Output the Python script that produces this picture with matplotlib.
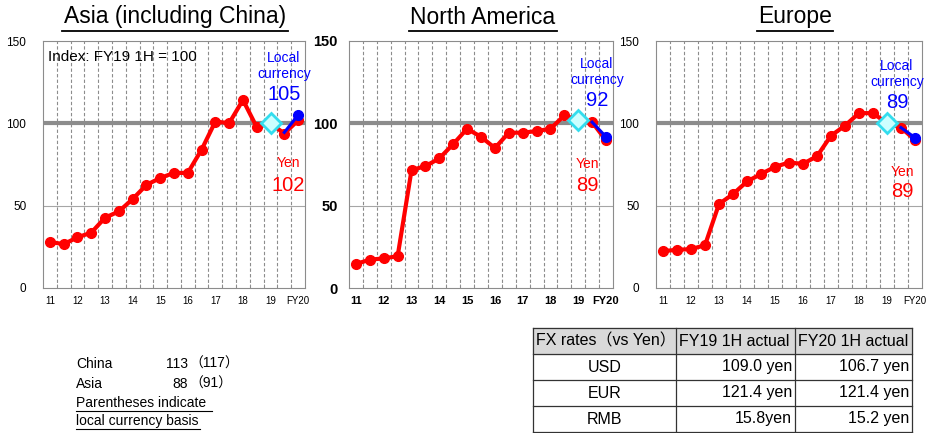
import matplotlib
matplotlib.use("Agg")
import matplotlib.pyplot as plt

plt.rcParams['font.family'] = ['Liberation Sans', 'Noto Sans CJK JP', 'DejaVu Sans']

# half-year points FY11 1H .. FY20 1H
x_labels = ['11', '12', '13', '14', '15', '16', '17', '18', '19', 'FY20']

asia_yen = [28, 26.6, 30.8, 33.6, 42.7, 46.5, 54, 62.6, 66.8, 69.9, 69.9, 84, 101.1, 100.1, 114.2, 97.7, 100, 93.8, 101.8]
asia_local = [94.5, 105]
na_yen = [14.6, 17.2, 18, 19.3, 71.6, 74, 78.7, 87.4, 96.7, 91.8, 85, 94.3, 94.3, 95.3, 96.7, 104.8, 102, 100.7, 89.6]
na_local = [100.7, 91.8]
eu_yen = [22.4, 23.2, 23.6, 26, 51, 57, 64.7, 69.2, 73.6, 76.2, 75.4, 80, 92.5, 98.6, 106.2, 106.2, 100, 97.4, 89.9]
eu_local = [97.4, 91.3]

titles = ['Asia (including China)', 'North America', 'Europe']
local_labels = ['105', '92', '89']
yen_labels = ['102', '89', '89']

china_row = ['China', '113', '（117）']
asia_row = ['Asia', '88', '（91）']

fx_header = ['FX rates（vs Yen）', 'FY19 1H actual', 'FY20 1H actual']
fx_rows = [['USD', '109.0 yen', '106.7 yen'],
           ['EUR', '121.4 yen', '121.4 yen'],
           ['RMB', '15.8yen', '15.2 yen']]

fig = plt.figure(figsize=(9.26, 4.33), dpi=100)
W, H = 926, 433

def fx(px):
    return px / W

def fy(py):
    return 1 - py / H

boxes = [(43, 305), (349, 613), (656, 922)]
title_x = [175, 483, 795]
title_w = [226, 148, 76]
bold = [False, True, False]
local_pos = [(284, 66, 95), (597, 72, 101), (897, 74, 102)]
yen_pos = [(288, 163, 185), (587, 164, 186), (902, 172, 192)]

series = [(asia_yen, asia_local), (na_yen, na_local), (eu_yen, eu_local)]

for i, (yen, local) in enumerate(series):
    l, r = boxes[i]
    ax = fig.add_axes([fx(l), fy(288), fx(r - l), fy(41) - fy(288)])
    n = len(yen)
    xs = list(range(n))
    ax.set_xlim(-0.5, n - 0.5)
    ax.set_ylim(0, 150)
    for k in range(n - 1):
        ax.axvline(k + 0.5, color='#8c8c8c', lw=0.8, ls=(0, (3, 2)), zorder=1)
    ax.axhline(50, color='#a6a6a6', lw=0.8, zorder=1)
    ax.axhline(100, color='#8c8c8c', lw=3, zorder=2)
    ax.plot(xs, yen, color='#ff0000', lw=3, marker='o', ms=7, zorder=3)
    ax.plot(xs[-2:], local, color='#0000ff', lw=2.2, zorder=4)
    ax.plot(xs[-1], local[-1], color='#0000ff', marker='o', ms=7, zorder=5)
    ax.plot(xs[-3], yen[-3], marker='D', ms=10, mfc='#ccffff', mec='#33ddee', mew=2, zorder=6)
    for s in ax.spines.values():
        s.set_color('#8c8c8c')
    ax.set_xticks(xs[::2])
    ax.set_xticks([k + 0.5 for k in range(n - 1)], minor=True)
    ax.set_yticks([0, 50, 100, 150])
    fw = 'bold' if bold[i] else 'normal'
    ax.set_xticklabels(x_labels, fontsize=8 if bold[i] else 7, fontweight=fw)
    ax.set_yticklabels(['0', '50', '100', '150'], fontsize=10.5 if bold[i] else 8.5, fontweight=fw)
    ax.tick_params(axis='x', which='major', length=0, pad=6)
    ax.tick_params(axis='x', which='minor', length=3, direction='in', color='#8c8c8c')
    ax.tick_params(axis='y', length=0, pad=12 if not bold[i] else 8)

    fig.text(fx(title_x[i]), fy(17), titles[i], fontsize=16.5, ha='center', va='center')
    fig.add_artist(plt.Line2D([fx(title_x[i] - title_w[i] / 2), fx(title_x[i] + title_w[i] / 2)],
                              [fy(31), fy(31)], color='black', lw=1.3))

    lx, ly1, ly2 = local_pos[i]
    fig.text(fx(lx), fy(ly1), 'Local\ncurrency', color='#0000ff', fontsize=10, ha='center', va='center',
             linespacing=1.1)
    fig.text(fx(lx), fy(ly2), local_labels[i], color='#0000ff', fontsize=14.5, ha='center', va='center')
    yx, yy1, yy2 = yen_pos[i]
    fig.text(fx(yx), fy(yy1), 'Yen', color='#ff0000', fontsize=10, ha='center', va='center')
    fig.text(fx(yx), fy(yy2), yen_labels[i], color='#ff0000', fontsize=14.5, ha='center', va='center')

fig.text(fx(48), fy(57), 'Index: FY19 1H = 100', fontsize=11, ha='left', va='center')

# bottom-left notes
for row, y in [(china_row, 364), (asia_row, 384)]:
    fig.text(fx(76), fy(y), row[0], fontsize=10, va='center')
    fig.text(fx(188), fy(y), row[1], fontsize=10, va='center', ha='right')
    fig.text(fx(189), fy(y), row[2], fontsize=10, va='center')
fig.text(fx(76), fy(403), 'Parentheses indicate', fontsize=10, va='center')
fig.add_artist(plt.Line2D([fx(76), fx(212)], [fy(411), fy(411)], color='black', lw=0.8))
fig.text(fx(76), fy(421), 'local currency basis', fontsize=10, va='center')
fig.add_artist(plt.Line2D([fx(76), fx(200)], [fy(429), fy(429)], color='black', lw=0.8))

# FX table
col_x = [533, 676, 795, 912]
row_y = [328, 354, 380, 406, 432]
tab = fig.add_axes([0, 0, 1, 1])
tab.set_xlim(0, W)
tab.set_ylim(H, 0)
tab.axis('off')
tab.fill_between([col_x[0], col_x[-1]], row_y[0], row_y[1], color='#d9d9d9', zorder=0)
for xv in col_x:
    tab.plot([xv, xv], [row_y[0], row_y[-1]], color='#333333', lw=0.9)
for yv in row_y:
    tab.plot([col_x[0], col_x[-1]], [yv, yv], color='#333333', lw=0.9)
for j, txt in enumerate(fx_header):
    tab.text(col_x[j] + 3, (row_y[0] + row_y[1]) / 2, txt, fontsize=11.5, va='center', ha='left')
for r, row in enumerate(fx_rows):
    yc = (row_y[r + 1] + row_y[r + 2]) / 2
    tab.text((col_x[0] + col_x[1]) / 2, yc, row[0], fontsize=11.5, va='center', ha='center')
    tab.text(col_x[2] - 3, yc, row[1], fontsize=11.5, va='center', ha='right')
    tab.text(col_x[3] - 3, yc, row[2], fontsize=11.5, va='center', ha='right')

fig.savefig('out.png', dpi=100)
